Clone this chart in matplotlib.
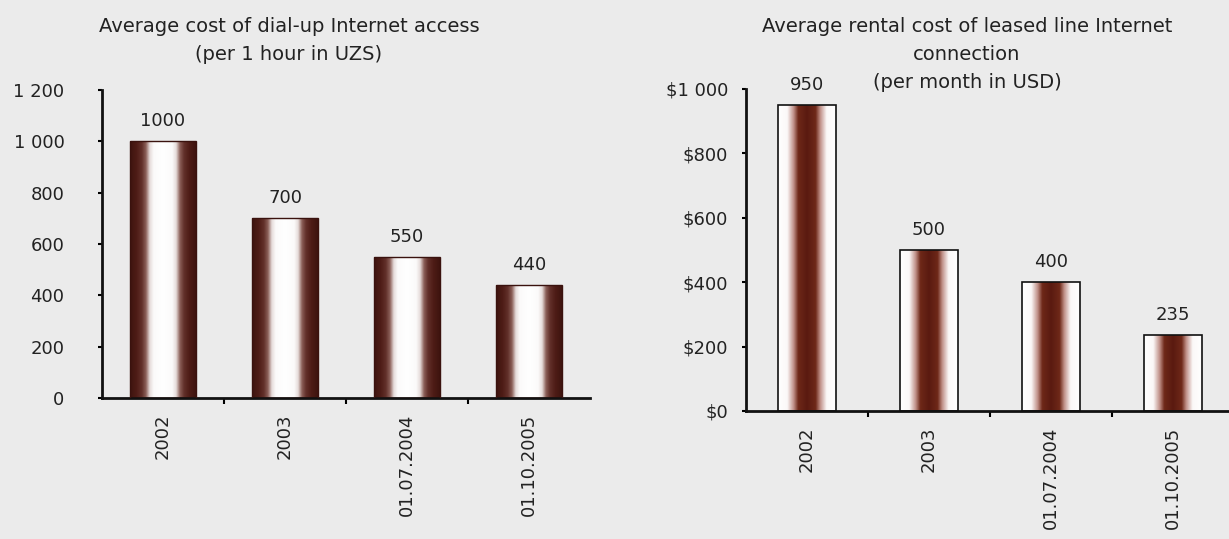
import numpy as np
import matplotlib
matplotlib.use("Agg")
import matplotlib.pyplot as plt
from matplotlib.colors import LinearSegmentedColormap

# ---- data ----
categories = ["2002", "2003", "01.07.2004", "01.10.2005"]
dialup_uzs = [1000, 700, 550, 440]
leased_usd = [950, 500, 400, 235]
dialup_ticks = [0, 200, 400, 600, 800, 1000, 1200]
dialup_ticklabels = ["0", "200", "400", "600", "800", "1 000", "1 200"]
leased_ticks = [0, 200, 400, 600, 800, 1000]
leased_ticklabels = ["$0", "$200", "$400", "$600", "$800", "$1 000"]
title_left = ["Average cost of dial-up Internet access", "(per 1 hour in UZS)"]
title_right = ["Average rental cost of leased line Internet", "connection", "(per month in USD)"]

BG = "#ebebeb"
TXT = "#222222"
plt.rcParams["font.family"] = ["DejaVu Sans"]

fig = plt.figure(figsize=(12.29, 5.39), dpi=100, facecolor=BG)
W, H = 1229, 539

axL = fig.add_axes([102 / W, (H - 398) / H, 488 / W, 308 / H])
axR = fig.add_axes([746 / W, (H - 411) / H, 488 / W, 322 / H])

# gradients
edge_dark = LinearSegmentedColormap.from_list(
    "edge_dark",
    [(0.0, "#3e140f"), (0.10, "#4e1c16"), (0.18, "#62302a"), (0.24, "#8a5e57"),
     (0.30, "#e6dcda"), (0.36, "#fbfafa"), (0.5, "#ffffff"), (0.64, "#fbfafa"),
     (0.70, "#e6dcda"), (0.76, "#8a5e57"), (0.82, "#62302a"), (0.90, "#4e1c16"),
     (1.0, "#3e140f")])
center_dark = LinearSegmentedColormap.from_list(
    "center_dark",
    [(0.0, "#ffffff"), (0.16, "#fbf8f8"), (0.27, "#c09088"), (0.35, "#6e2818"),
     (0.5, "#5a1a10"), (0.65, "#6e2818"), (0.73, "#c09088"), (0.84, "#fbf8f8"),
     (1.0, "#ffffff")])
grad = np.linspace(0, 1, 256).reshape(1, -1)


def draw(ax, values, width, cmap, edgecolor, lw, ticks, ticklabels, ymax, ypad):
    ax.set_facecolor("none")
    x = np.arange(len(categories))
    bars = ax.bar(x, values, width=width, color="none", edgecolor=edgecolor,
                  linewidth=lw, zorder=3)
    for b in bars:
        x0, y0 = b.get_x(), b.get_y()
        im = ax.imshow(grad, cmap=cmap, aspect="auto", interpolation="bilinear",
                       extent=[x0, x0 + b.get_width(), y0, y0 + b.get_height()],
                       zorder=2)
        im.set_clip_path(b)
    for xi, v in zip(x, values):
        ax.annotate(str(v), (xi, v), xytext=(0, 8), textcoords="offset points",
                    ha="center", va="bottom", fontsize=13, color=TXT)
    ax.set_xlim(-0.5, len(categories) - 0.5)
    ax.set_ylim(0, ymax)
    ax.set_yticks(ticks)
    ax.set_yticklabels(ticklabels, fontsize=13, color=TXT)
    ax.set_xticks(x)
    ax.set_xticklabels(categories, rotation=90, fontsize=13, color=TXT)
    ax.set_xticks(x[:-1] + 0.5, minor=True)
    ax.tick_params(axis="x", which="major", length=0, pad=11)
    ax.tick_params(axis="x", which="minor", length=4, width=1.5, direction="out")
    ax.tick_params(axis="y", length=3, width=1.5, direction="out", pad=ypad)
    for s in ["top", "right"]:
        ax.spines[s].set_visible(False)
    for s in ["left", "bottom"]:
        ax.spines[s].set_linewidth(2)
        ax.spines[s].set_color("#111111")


draw(axL, dialup_uzs, 0.54, edge_dark, "#3a120e", 1.0, dialup_ticks,
     dialup_ticklabels, 1200, 24)
draw(axR, leased_usd, 0.47, center_dark, "#111111", 1.2, leased_ticks,
     leased_ticklabels, 1000, 10)

# titles
for i, line in enumerate(title_left):
    fig.text(289 / W, 1 - (27 + 28 * i) / H, line, ha="center", va="center",
             fontsize=14, color=TXT)
for i, line in enumerate(title_right):
    fig.text(967 / W, 1 - (26 + 28 * i) / H, line, ha="center", va="center",
             fontsize=14, color=TXT)

fig.savefig("out.png", dpi=100, facecolor=BG)
